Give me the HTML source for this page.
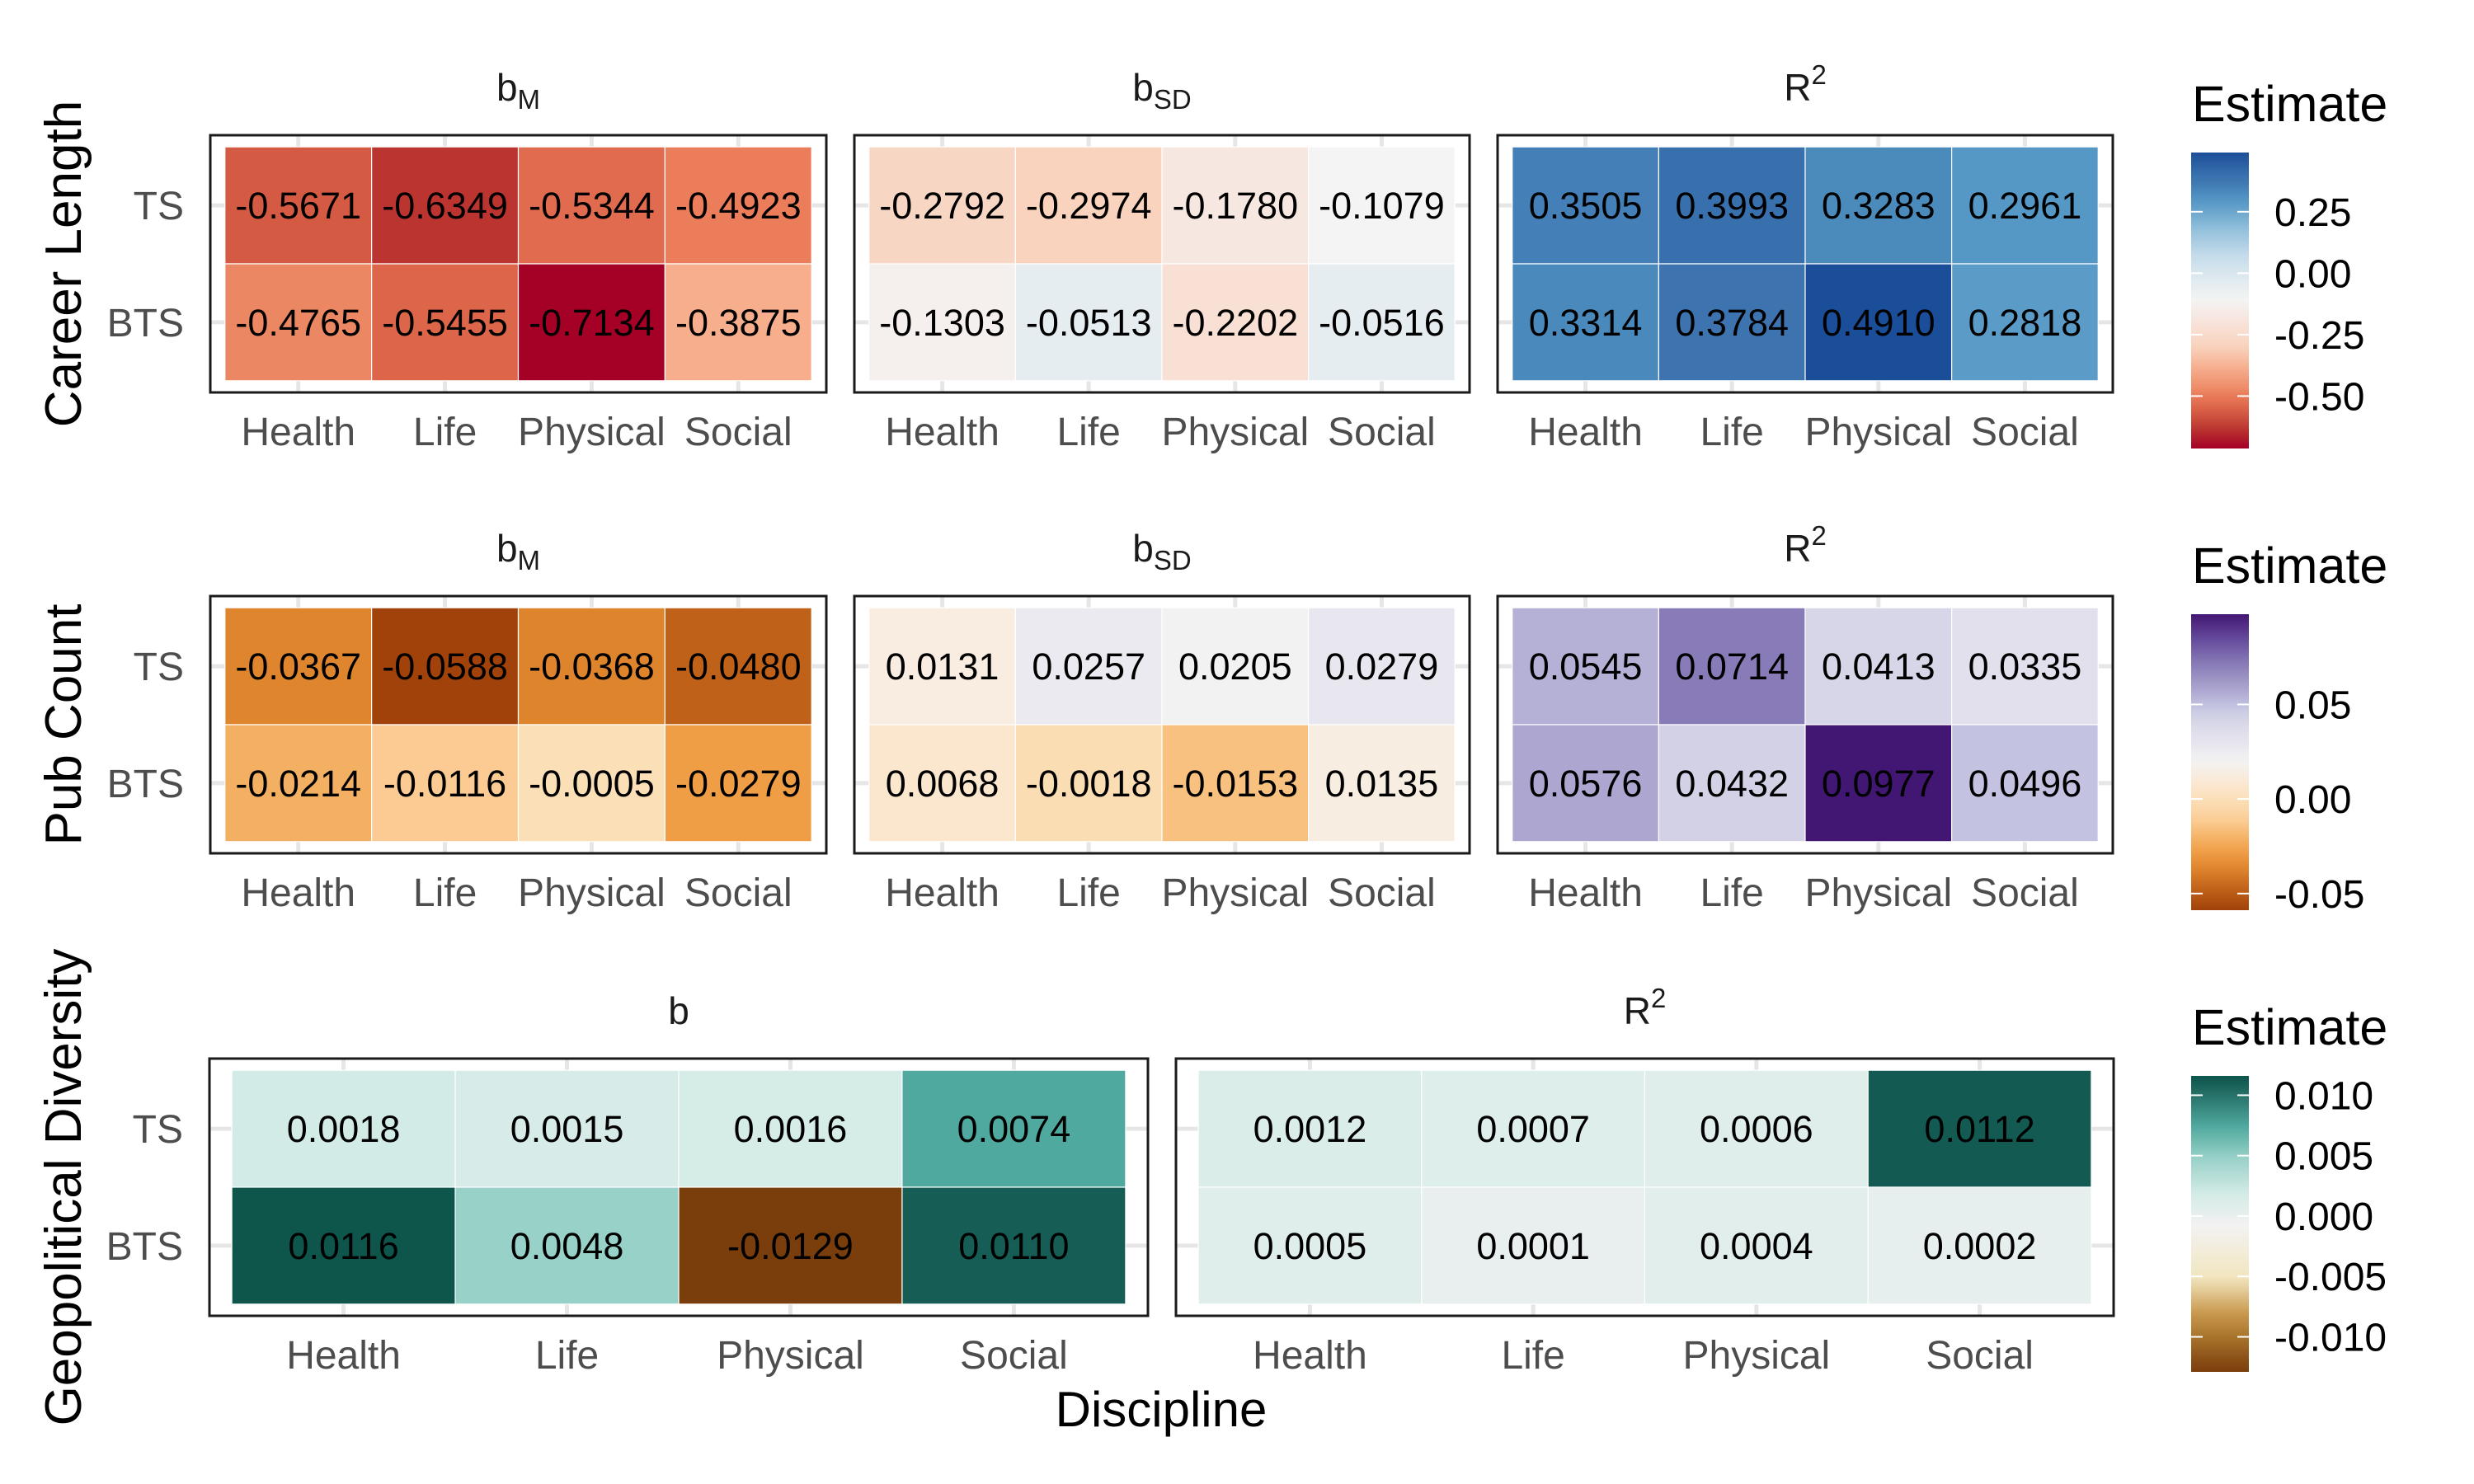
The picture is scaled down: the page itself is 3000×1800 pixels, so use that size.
<!DOCTYPE html>
<html><head><meta charset="utf-8"><style>
html,body{margin:0;padding:0;background:#fff;}
svg{display:block;font-family:"Liberation Sans",Arial,sans-serif;}
</style></head><body>
<svg id="chart" width="3000" height="1800" viewBox="0 0 3000 1800" xmlns="http://www.w3.org/2000/svg"></svg>
<script>
const categories = ["Health","Life","Physical","Social"];
const rowsLabels = ["TS","BTS"];
// Career Length
const clBM  = [[-0.5671,-0.6349,-0.5344,-0.4923],[-0.4765,-0.5455,-0.7134,-0.3875]];
const clBSD = [[-0.2792,-0.2974,-0.1780,-0.1079],[-0.1303,-0.0513,-0.2202,-0.0516]];
const clR2  = [[0.3505,0.3993,0.3283,0.2961],[0.3314,0.3784,0.4910,0.2818]];
// Pub Count
const pcBM  = [[-0.0367,-0.0588,-0.0368,-0.0480],[-0.0214,-0.0116,-0.0005,-0.0279]];
const pcBSD = [[0.0131,0.0257,0.0205,0.0279],[0.0068,-0.0018,-0.0153,0.0135]];
const pcR2  = [[0.0545,0.0714,0.0413,0.0335],[0.0576,0.0432,0.0977,0.0496]];
// Geopolitical Diversity
const gdB   = [[0.0018,0.0015,0.0016,0.0074],[0.0116,0.0048,-0.0129,0.0110]];
const gdR2  = [[0.0012,0.0007,0.0006,0.0112],[0.0005,0.0001,0.0004,0.0002]];
// Legend ticks
const clTicks = [0.25,0.00,-0.25,-0.50];
const clTickLabels = ["0.25","0.00","-0.25","-0.50"];
const pcTicks = [0.05,0.00,-0.05];
const pcTickLabels = ["0.05","0.00","-0.05"];
const gdTicks = [0.010,0.005,0.000,-0.005,-0.010];
const gdTickLabels = ["0.010","0.005","0.000","-0.005","-0.010"];

const NS="http://www.w3.org/2000/svg";
const svg=document.getElementById('chart');
function el(tag,attrs,parent){const e=document.createElementNS(NS,tag);for(const k in attrs)e.setAttribute(k,attrs[k]);(parent||svg).appendChild(e);return e;}

const RDBU=[[0,'#a50026'],[.065,'#bb3430'],[.121,'#d45a43'],[.139,'#dd654a'],[.149,'#e06b4e'],[.184,'#eb7d5b'],[.196,'#ec8763'],[.27,'#f6ae8d'],[.345,'#f9d3bd'],[.36,'#f7d6c3'],[.41,'#f9e0d5'],[.445,'#f6e8e1'],[.484,'#f5efed'],[.503,'#f3f4f3'],[.55,'#e6edf0'],[.65,'#c5dcea'],[.74,'#92c0dc'],[.826,'#5b9bc7'],[.838,'#5597c5'],[.866,'#4b8abc'],[.883,'#447fb7'],[.906,'#3d74b0'],[.924,'#3870ae'],[1,'#1b4e98']];
const PUOR=[[0,'#a0420a'],[.069,'#c06119'],[.14,'#de842d'],[.197,'#f09e46'],[.239,'#f4b062'],[.278,'#f8c17f'],[.30,'#fbcb92'],[.364,'#fbddb4'],[.372,'#fbdfb7'],[.419,'#fbe6ce'],[.459,'#f8ede0'],[.504,'#f3f3f3'],[.537,'#ecebf0'],[.589,'#e1e0ec'],[.64,'#d6d6e8'],[.692,'#c3c2e0'],[.724,'#b4b0d6'],[.744,'#aca6d0'],[.832,'#897bb7'],[.92,'#64489a'],[1,'#421673']];
const BRBG=[[0,'#7a3d0c'],[.118,'#a8742b'],[.2,'#c99a4f'],[.32,'#f2e6c0'],[.45,'#f2efe6'],[.5,'#f2f2f2'],[.531,'#e8efee'],[.545,'#e1eeeb'],[.56,'#ddeeea'],[.576,'#dbede9'],[.6,'#d3ebe6'],[.722,'#98d1c8'],[.829,'#50a99e'],[.976,'#165d55'],[1,'#0e554c']];

function hex(c){return [parseInt(c.slice(1,3),16),parseInt(c.slice(3,5),16),parseInt(c.slice(5,7),16)];}
function interp(stops,t){t=Math.max(0,Math.min(1,t));for(let i=1;i<stops.length;i++){if(t<=stops[i][0]){const a=stops[i-1],b=stops[i];const f=(t-a[0])/(b[0]-a[0]||1);const A=hex(a[1]),B=hex(b[1]);return 'rgb('+A.map((v,j)=>Math.round(v+(B[j]-v)*f)).join(',')+')';}}return stops[stops.length-1][1];}
function range(arrs){const all=arrs.flat(2);return [Math.min(...all),Math.max(...all)];}
function colorFn(stops,arrs){const [lo,hi]=range(arrs);return v=>interp(stops,(v-lo)/(hi-lo));}

function stripTitle(cx,y,main,sub,sup,name){
  const t=el('text',{x:cx,y:y,'text-anchor':'middle','font-size':46,fill:'#1a1a1a'});
  
  
  const a=el('tspan',{},t);a.textContent=main;
  if(sub){const s=el('tspan',{'font-size':33,dy:10},t);s.textContent=sub;}
  if(sup){const s=el('tspan',{'font-size':33,dy:-20},t);s.textContent=sup;}
}

function panel(box,vals,fill,name,title){
  const g=el('g',{});
  
  
  const W=box.x2-box.x1,H=box.y2-box.y1;
  const ux=W/4.2,uy=H/2.2;
  const xS=i=>box.x1+(i+0.1)*ux;
  const xC=i=>box.x1+(i+0.6)*ux;
  const yS=r=>box.y1+(r+0.1)*uy;
  const yC=r=>box.y1+(r+0.6)*uy;
  categories.forEach((c,i)=>{el('line',{x1:xC(i),x2:xC(i),y1:box.y1,y2:box.y2,stroke:'#e6e6e6','stroke-width':5},g);});
  rowsLabels.forEach((r,j)=>{el('line',{x1:box.x1,x2:box.x2,y1:yC(j),y2:yC(j),stroke:'#e6e6e6','stroke-width':5},g);});
  vals.forEach((row,r)=>row.forEach((v,i)=>{
    const rc=el('rect',{x:xS(i),y:yS(r),width:ux,height:uy,fill:fill(v),stroke:'#ffffff','stroke-width':1.2},g);
    
    
  }));
  vals.forEach((row,r)=>row.forEach((v,i)=>{
    const t=el('text',{x:xC(i),y:yC(r)+16,'text-anchor':'middle','font-size':45,fill:'#000'},g);
    
    
    t.textContent=v.toFixed(4);
  }));
  el('rect',{x:box.x1,y:box.y1,width:W,height:H,fill:'none',stroke:'#1a1a1a','stroke-width':3},g);
  categories.forEach((c,i)=>{
    const t=el('text',{x:xC(i),y:box.y2+64,'text-anchor':'middle','font-size':48,fill:'#4d4d4d'},g);
    
    
    t.textContent=c;
  });
  if(box.ylabels){
    rowsLabels.forEach((r,j)=>{
      const t=el('text',{x:box.x1-32,y:yC(j)+17,'text-anchor':'end','font-size':48,fill:'#4d4d4d'},g);
      
      
      t.textContent=r;
    });
  }
  stripTitle((box.x1+box.x2)/2,box.y1-42,title[0],title[1],title[2],name+'-title');
}

function rowTitle(cy,text,name){
  const t=el('text',{x:0,y:0,transform:'translate(98,'+cy+') rotate(-90)','text-anchor':'middle','font-size':62,fill:'#000'});
  
  
  t.textContent=text;
}

function legend(top,stops,arrs,ticks,labels,name,gid){
  const [lo,hi]=range(arrs);
  const g=el('g',{});
  
  
  const x1=2657,x2=2727,h=359;
  const defs=el('defs',{},g);
  const lg=el('linearGradient',{id:gid,x1:0,y1:1,x2:0,y2:0},defs);
  for(let k=0;k<=40;k++){const t=k/40;el('stop',{offset:t,'stop-color':interp(stops,t)},lg);}
  const tt=el('text',{x:2658,y:top-38,'font-size':61,fill:'#000'},g);
  
  
  tt.textContent='Estimate';
  el('rect',{x:x1,y:top,width:x2-x1,height:h,fill:'url(#'+gid+')'},g);
  const yv=v=>top+h-(v-lo)/(hi-lo)*h;
  ticks.forEach((v,k)=>{
    el('line',{x1:x1,x2:x1+14,y1:yv(v),y2:yv(v),stroke:'#fff','stroke-width':2},g);
    el('line',{x1:x2-14,x2:x2,y1:yv(v),y2:yv(v),stroke:'#fff','stroke-width':2},g);
    const t=el('text',{x:2758,y:yv(v)+17,'font-size':48,fill:'#000'},g);
    
    
    t.textContent=labels[k];
  });
}

// Row 1
const clArr=[clBM,clBSD,clR2];
const fCL=colorFn(RDBU,clArr);
panel({x1:255,x2:1002,y1:164,y2:476,ylabels:true},clBM,fCL,'career-bm-panel',['b','M',null]);
panel({x1:1036,x2:1782,y1:164,y2:476},clBSD,fCL,'career-bsd-panel',['b','SD',null]);
panel({x1:1816,x2:2562,y1:164,y2:476},clR2,fCL,'career-r2-panel',['R',null,'2']);
rowTitle(320,'Career Length','career-length-row-title');
legend(185,RDBU,clArr,clTicks,clTickLabels,'career-legend','gCL');

// Row 2
const pcArr=[pcBM,pcBSD,pcR2];
const fPC=colorFn(PUOR,pcArr);
panel({x1:255,x2:1002,y1:723,y2:1035,ylabels:true},pcBM,fPC,'pub-bm-panel',['b','M',null]);
panel({x1:1036,x2:1782,y1:723,y2:1035},pcBSD,fPC,'pub-bsd-panel',['b','SD',null]);
panel({x1:1816,x2:2562,y1:723,y2:1035},pcR2,fPC,'pub-r2-panel',['R',null,'2']);
rowTitle(879,'Pub Count','pub-count-row-title');
legend(745,PUOR,pcArr,pcTicks,pcTickLabels,'pub-legend','gPC');

// Row 3
const gdArr=[gdB,gdR2];
const fGD=colorFn(BRBG,gdArr);
panel({x1:254,x2:1392,y1:1284,y2:1596,ylabels:true},gdB,fGD,'geo-b-panel',['b',null,null]);
panel({x1:1426,x2:2563,y1:1284,y2:1596},gdR2,fGD,'geo-r2-panel',['R',null,'2']);
rowTitle(1440,'Geopolitical Diversity','geo-diversity-row-title');
legend(1305,BRBG,gdArr,gdTicks,gdTickLabels,'geo-legend','gGD');

const xt=el('text',{x:1408,y:1730,'text-anchor':'middle','font-size':60,fill:'#000'});


xt.textContent='Discipline';
</script>
</body></html>
